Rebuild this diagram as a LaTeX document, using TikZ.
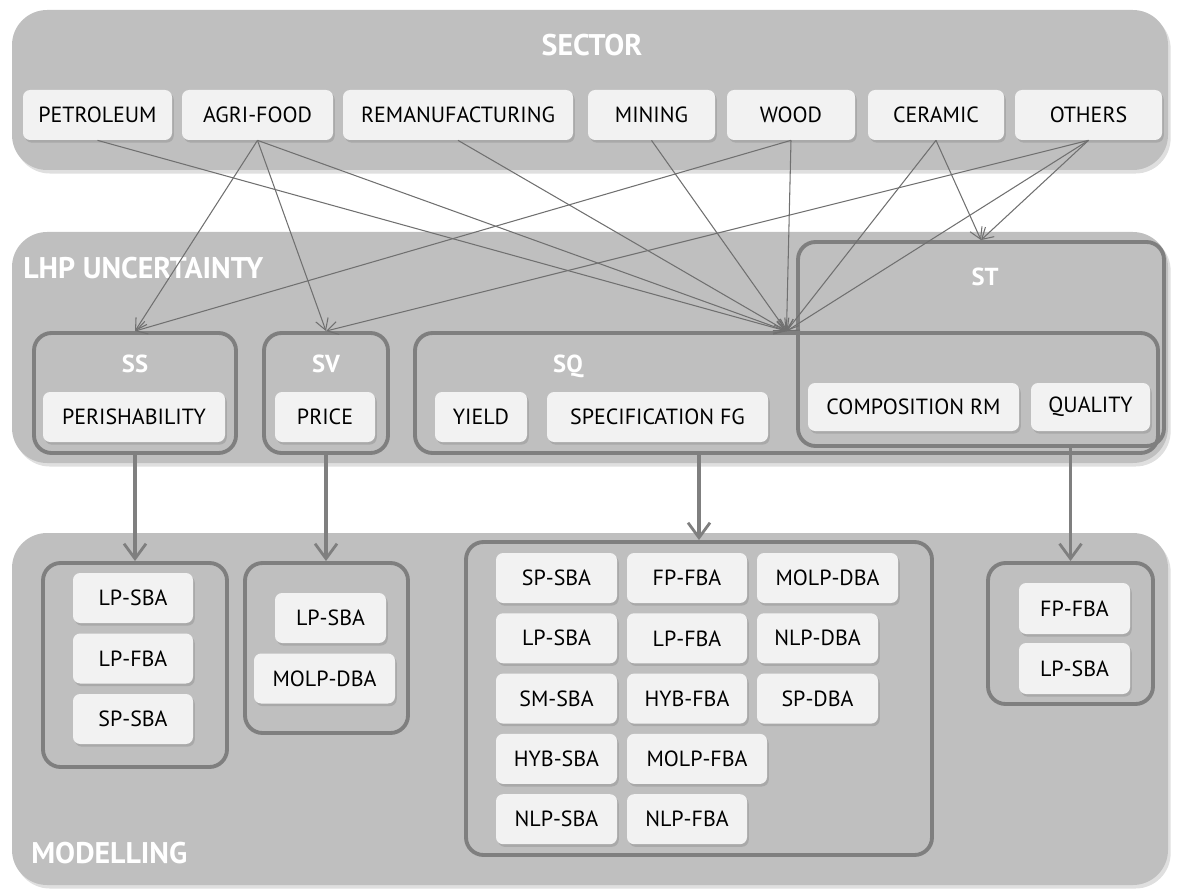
\documentclass[tikz,border=0pt]{standalone}
\usepackage{fontspec}
\setmainfont{PT Sans}
\usetikzlibrary{arrows.meta,positioning,calc,fit,shadows}
\definecolor{panelgray}{HTML}{BFBFBF}
\definecolor{boxgray}{HTML}{F2F2F2}
\definecolor{edgegray}{HTML}{7F7F7F}
\definecolor{linegray}{HTML}{707070}
\tikzset{
  >={Straight Barb[length=2.2mm,width=2.6mm]},
  % panels
  panel/.style={fill=panelgray,rounded corners=20pt,inner sep=0pt,
                drop shadow={shadow xshift=1.5pt,shadow yshift=-2pt,opacity=0.25}},
  ptitle/.style={font=\bfseries\fontsize{17}{19}\selectfont,text=white,inner sep=0pt},
  gtitle/.style={font=\bfseries\fontsize{14}{16}\selectfont,text=white,inner sep=0pt},
  % groups and boxes
  grp/.style={draw=edgegray,line width=2.2pt,rounded corners=10pt,inner sep=0pt},
  box/.style={fill=boxgray,rounded corners=4pt,inner sep=0pt,
              font=\fontsize{12.5}{14}\selectfont,
              drop shadow={shadow xshift=1pt,shadow yshift=-1.5pt,opacity=0.35}},
  wh/.style 2 args={minimum width=(#1)*0.02cm,minimum height=(#2)*0.02cm},
  % connectors
  link/.style={->,draw=linegray,line width=0.6pt},
  flow/.style={-{Straight Barb[length=3mm,width=4.4mm,line width=1.6pt]},
               draw=edgegray,line width=2pt},
}
\begin{document}
\begin{tikzpicture}[x=0.02cm,y=-0.02cm]
\useasboundingbox (0,0) rectangle (1180,895);
  % panels
  \node[panel,fit={(12,10)(1168,170)}] (sector) {};
  \node[ptitle] (sectortitle) at (592,45) {SECTOR};
  \node[panel,fit={(12,232)(1168,463)}] (lhp) {};
  \node[ptitle,anchor=west] (lhptitle) at (23,268) {LHP UNCERTAINTY};
  \node[panel,fit={(12,533)(1168,885)}] (model) {};
  \node[ptitle,anchor=west] (modeltitle) at (31,853) {MODELLING};
  % sectors
  \node[box,wh={149}{50}] (petro) at (97.5,115) {PETROLEUM};
  \node[box,wh={151}{50}] (agri) at (257.5,115) {AGRI-FOOD};
  \node[box,wh={230}{50}] (reman) at (458,115) {REMANUFACTURING};
  \node[box,wh={127}{50}] (mining) at (651.5,115) {MINING};
  \node[box,wh={128}{50}] (wood) at (791,115) {WOOD};
  \node[box,wh={136}{50}] (ceramic) at (936,115) {CERAMIC};
  \node[box,wh={147}{50}] (others) at (1088.5,115) {OTHERS};
  % uncertainty
  \node[grp,fit={(34,333)(236,453)}] (ssg) {};
  \node[gtitle] (sstitle) at (135,364) {SS};
  \node[box,wh={182}{50}] (perish) at (134,417) {PERISHABILITY};
  \node[grp,fit={(264,333)(388,453)}] (svg) {};
  \node[gtitle] (svtitle) at (326,364) {SV};
  \node[box,wh={100}{50}] (price) at (325,417) {PRICE};
  \node[grp,fit={(415,333)(1158,453)}] (sqg) {};
  \node[gtitle] (sqtitle) at (568,366) {SQ};
  \node[box,wh={92}{50}] (yield) at (481,417) {YIELD};
  \node[box,wh={221}{50}] (specfg) at (657.5,417) {SPECIFICATION FG};
  \node[grp,fit={(798,242)(1164,446)}] (stg) {};
  \node[gtitle] (sttitle) at (985,277) {ST};
  \node[box,wh={211}{48}] (comprm) at (913.5,407) {COMPOSITION RM};
  \node[box,wh={119}{48}] (quality) at (1090.5,407) {QUALITY};
  % modelling
  \node[grp,fit={(43,563)(227,767)}] (mss) {};
  \node[box,wh={120}{50}] (ss1) at (133,598) {LP-SBA};
  \node[box,wh={120}{50}] (ss2) at (133,658.5) {LP-FBA};
  \node[box,wh={120}{50}] (ss3) at (133,719) {SP-SBA};
  \node[grp,fit={(245,563)(408,733)}] (msv) {};
  \node[box,wh={111}{50}] (sv1) at (330.5,618) {LP-SBA};
  \node[box,wh={141}{50}] (sv2) at (324.5,678.5) {MOLP-DBA};
  \node[grp,fit={(466,542)(932,855)}] (msq) {};
  \foreach \lab/\xa/\xb/\r [count=\i] in {
      SP-SBA/496/617/0, FP-FBA/627/747/0, MOLP-DBA/757/898/0,
      LP-SBA/496/617/1, LP-FBA/627/747/1, NLP-DBA/757/878/1,
      SM-SBA/496/617/2, HYB-FBA/627/747/2, SP-DBA/757/878/2,
      HYB-SBA/496/617/3, MOLP-FBA/627/767/3,
      NLP-SBA/496/617/4, NLP-FBA/627/747/4}
    \node[box,wh={\xb-\xa}{50}] (sq\i) at ({(\xa+\xb)/2},{578+60.3*\r}) {\lab};
  \node[grp,fit={(988,563)(1153,704)}] (mst) {};
  \node[box,wh={111}{51}] (st1) at (1074.5,608.5) {FP-FBA};
  \node[box,wh={111}{51}] (st2) at (1074.5,668.5) {LP-SBA};
  % sector -> uncertainty
  \draw[link] (petro.south) -- (sqg.north);
  \draw[link] (agri.south) -- (ssg.north);
  \draw[link] (agri.south) -- (svg.north);
  \draw[link] (agri.south) -- (sqg.north);
  \draw[link] (reman.south) -- (sqg.north);
  \draw[link] (mining.south) -- (sqg.north);
  \draw[link] (wood.south) -- (ssg.north);
  \draw[link] (wood.south) -- (sqg.north);
  \draw[link] (ceramic.south) -- (sqg.north);
  \draw[link] (ceramic.south) -- (stg.north);
  \draw[link] (others.south) -- (svg.north);
  \draw[link] (others.south) -- (sqg.north);
  \draw[link] (others.south) -- (stg.north);
  % uncertainty -> modelling
  \draw[flow] (ssg.south) -- (ssg.south |- mss.north);
  \draw[flow] (svg.south) -- (svg.south |- msv.north);
  \draw[flow] (sqg.south -| msq.north) -- (msq.north);
  \draw[flow] (stg.south -| mst.north) -- (mst.north);
\end{tikzpicture}
\end{document}
